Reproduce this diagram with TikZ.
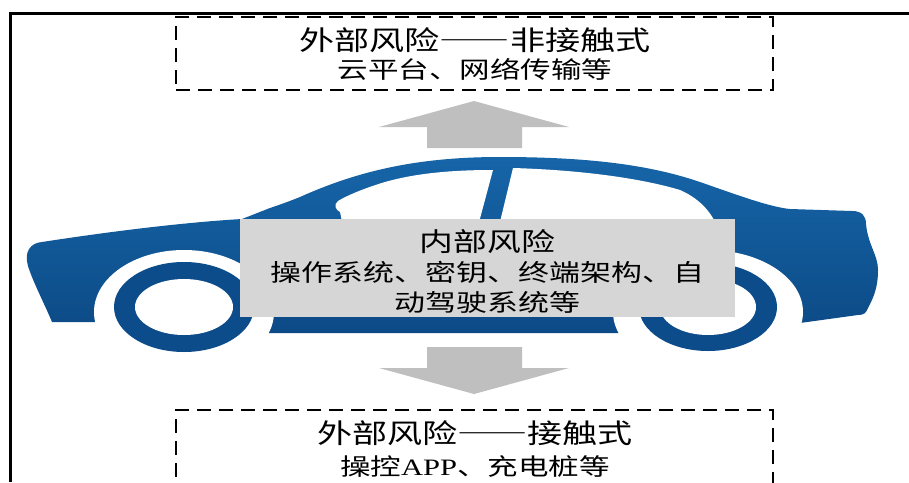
\documentclass[tikz,border=0pt]{standalone}
\usepackage{fontspec}
\newfontfamily\cjk[FakeStretch=1.3]{Noto Sans CJK SC}
\newfontfamily\cjkwide[FakeStretch=1.3,CharacterWidth=Full]{Noto Sans CJK SC}
\newfontfamily\latinserif[FakeStretch=1.3]{Liberation Serif}
\definecolor{bodytop}{RGB}{22,101,168}
\definecolor{bodybot}{RGB}{12,74,134}
\definecolor{wheelblue}{RGB}{12,76,138}
\definecolor{boxgray}{RGB}{214,214,214}
\definecolor{arrowgray}{RGB}{191,191,191}
\newcommand{\longdash}{{\cjkwide ——}}
\begin{document}
\begin{tikzpicture}[x=1pt,y=-1pt,
  dashbox/.style={draw=black, line width=2pt, dash pattern=on 14pt off 8pt,
    minimum width=597pt, inner sep=0pt},
  caption/.style={inner sep=0pt, text=black, font=\cjk},
  bigtext/.style={caption, font=\cjk\fontsize{27}{30}\selectfont},
  smalltext/.style={caption, font=\cjk\fontsize{23.5}{28}\selectfont},
  blockarrow/.style={fill=arrowgray, draw=none}]
\useasboundingbox (0,0) rectangle (909,482);
\clip (0,0) rectangle (909,482);

% outer frame (left and top rules)
\draw[line width=3pt] (10.5,482) -- (10.5,13.5) -- (909,13.5);

% car silhouette
\shade[top color=bodytop, bottom color=bodybot]
  (42,242) .. controls (120,230) and (190,222) .. (242,219)
  -- (270,208) .. controls (285,203) and (295,199) .. (300,197)
  .. controls (360,170) and (420,157) .. (500,157)
  .. controls (590,157) and (650,165) .. (700,182)
  .. controls (740,196) and (770,207) .. (790,209)
  -- (852,211) .. controls (862,211) and (866,216) .. (866,224)
  .. controls (868,245) and (878,255) .. (878,270)
  .. controls (878,290) and (872,300) .. (868,308)
  .. controls (866,313) and (864,315) .. (858,315)
  -- (800,323) -- (700,323) -- (700,333) -- (180,333) -- (180,322) -- (52,322)
  .. controls (45,305) and (33,282) .. (28,266)
  .. controls (24,252) and (30,243) .. (42,242) -- cycle;

% windows
\fill[white] (478,226) -- (493,170)
  .. controls (460,170) and (420,172) .. (385,182)
  .. controls (365,188) and (348,195) .. (338,201)
  .. controls (333,205) and (336,210) .. (340,212) -- (343,226) -- cycle;
\fill[white] (499,226) -- (513,168)
  .. controls (580,170) and (640,178) .. (680,190)
  .. controls (698,198) and (710,210) .. (717,226) -- cycle;

% wheel arches
\fill[white] (184,312) ellipse [x radius=90pt, y radius=62pt];
\fill[white] (708,312) ellipse [x radius=95pt, y radius=62pt];

% wheels
\fill[wheelblue] (184,307) ellipse [x radius=70pt, y radius=45pt];
\fill[white] (184,307) ellipse [x radius=49pt, y radius=28pt];
\fill[wheelblue] (708,307) ellipse [x radius=69pt, y radius=44pt];
\fill[white] (708,307) ellipse [x radius=48pt, y radius=28pt];

% boxes
\node[dashbox, minimum height=73pt, anchor=north] (outerTop) at (474.5,16) {};
\node[dashbox, minimum height=95pt, anchor=north] (outerBot) at (474.5,409) {};
\node[fill=boxgray, minimum width=495pt, minimum height=98pt, inner sep=0pt] (inner) at (487.5,268) {};

% texts
\node[bigtext] (topTitle) at (475,40) {外部风险\longdash 非接触式};
\node[smalltext] (topSub) at (475,69) {云平台、网络传输等};
\node[caption, font=\cjk\fontsize{26}{30}\selectfont] (innerTitle) at (487.5,242) {内部风险};
\node[caption, font=\cjk\fontsize{23.8}{28}\selectfont] (innerL1) at (487.5,272) {操作系统、密钥、终端架构、自};
\node[caption, font=\cjk\fontsize{23.8}{28}\selectfont] (innerL2) at (487.5,302) {动驾驶系统等};
\node[bigtext] (botTitle) at (475,433) {外部风险\longdash 接触式};
\node[smalltext] (botSub) at (475,467) {操控{\latinserif APP}、充电桩等};

% block arrows between the risk boxes
\fill[blockarrow] (427,148) -- (427,127) -- (379,127) -- (474,101) -- (569,127) -- (522,127) -- (522,148) -- cycle;
\fill[blockarrow] (427,347) -- (522,347) -- (522,368) -- (569,368) -- (474,394) -- (379,368) -- (427,368) -- cycle;
\end{tikzpicture}
\end{document}
